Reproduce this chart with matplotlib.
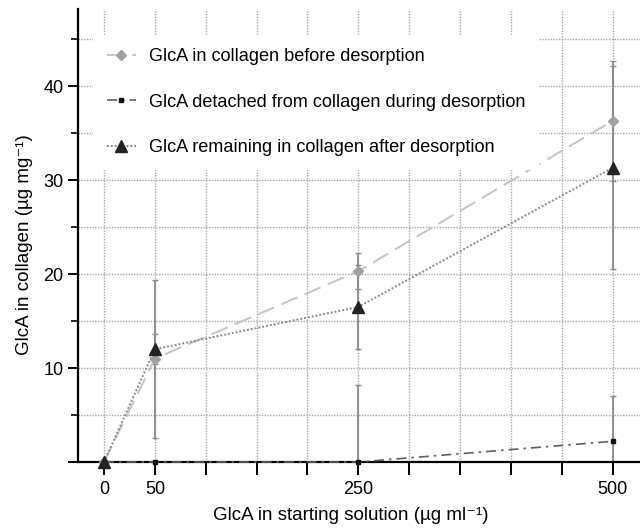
import matplotlib
matplotlib.use("Agg")
import matplotlib.pyplot as plt
import numpy as np

plt.rcParams['font.family'] = ['Liberation Sans', 'DejaVu Sans']

x = [0, 50, 250, 500]
before = [0, 11.0, 20.3, 36.3]
before_err = [0, 8.4, 1.9, 6.4]
detached = [0, 0, 0, 2.2]
detached_err = [0, 0, 8.2, 4.8]
remaining = [0, 12.0, 16.5, 31.3]
remaining_err = [0, 1.6, 4.5, 10.8]

labels = ["GlcA in collagen before desorption",
          "GlcA detached from collagen during desorption",
          "GlcA remaining in collagen after desorption"]
xtick_pos = [0, 50, 100, 150, 200, 250, 300, 350, 400, 450, 500]
xtick_labels = ['0', '50', '', '', '', '250', '', '', '', '', '500']
ytick_pos = [0, 10, 20, 30, 40]
ytick_labels = ['', '10', '20', '30', '40']
yminor = [5, 15, 25, 35, 45]

fig = plt.figure(figsize=(6.4, 5.28), dpi=100)
ax = fig.add_axes([78/640, 66/528, 562/640, 453/528])

ax.set_xlim(-25.6, 527)
ax.set_ylim(0, 48.2)

# grid
for gx in xtick_pos:
    ax.axvline(gx, color='#a8a8a8', lw=1.0, ls=(0, (1, 1)), zorder=0)
for gy in yminor + ytick_pos[1:]:
    ax.axhline(gy, color='#a8a8a8', lw=1.0, ls=(0, (1, 1)), zorder=0)

ekw = dict(ecolor='#8a8a8a', elinewidth=1.3, capsize=2.5, capthick=1.0, zorder=2)
ax.errorbar(x, before, yerr=before_err, fmt='none', **ekw)
ax.errorbar(x, remaining, yerr=remaining_err, fmt='none', **ekw)
ax.errorbar(x, detached, yerr=detached_err, fmt='none', **ekw)

l1, = ax.plot(x, before, color='#c4c4c4', lw=1.4, ls=(0, (9, 4)),
              marker='D', ms=5, mfc='#a0a0a0', mec='#a0a0a0', zorder=3,
              clip_on=False)
l2, = ax.plot(x, detached, color='#5f5f5f', lw=1.2, ls=(0, (6, 3, 1.5, 3)),
              marker='s', ms=3, mfc='#111111', mec='#111111', zorder=3,
              clip_on=False)
l3, = ax.plot(x, remaining, color='#8a8a8a', lw=1.4, ls=(0, (1, 1)),
              marker='^', ms=8, mfc='#222222', mec='#222222', zorder=4,
              clip_on=False)

leg = ax.legend([l1, l2, l3], labels, loc='upper left',
                bbox_to_anchor=(0.027, 0.943), borderaxespad=0,
                fontsize=13.1, frameon=True, fancybox=False, framealpha=1,
                facecolor='white', edgecolor='none', labelspacing=1.55,
                handlelength=1.6, handletextpad=0.7, borderpad=0.75)
leg.set_zorder(5)

for s in ['top', 'right']:
    ax.spines[s].set_visible(False)
ax.spines['left'].set_linewidth(1.6)
ax.spines['bottom'].set_linewidth(1.6)

ax.set_xticks(xtick_pos)
ax.set_xticklabels(xtick_labels, fontsize=13)
ax.set_yticks(ytick_pos)
ax.set_yticklabels(ytick_labels, fontsize=13)
ax.set_yticks(yminor, minor=True)
ax.tick_params(axis='x', which='major', direction='out', length=9, width=1.4, pad=5)
ax.tick_params(axis='y', which='major', direction='out', length=7, width=1.4)
ax.tick_params(axis='y', which='minor', direction='out', length=5, width=1.2)

ax.set_xlabel("GlcA in starting solution (µg ml\u207b\u00b9)", fontsize=13.5, labelpad=8)
ax.set_ylabel("GlcA in collagen (µg mg\u207b\u00b9)", fontsize=13.5, labelpad=8)
ax.yaxis.set_label_coords(-0.08, 0.48)
ax.xaxis.set_label_coords(0.485, -0.1)

fig.savefig("out.png", dpi=100)
